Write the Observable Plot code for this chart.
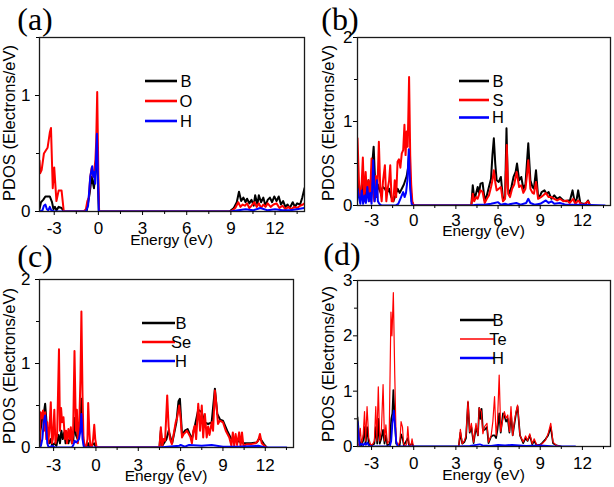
<!DOCTYPE html>
<html><head><meta charset="utf-8">
<script src="https://cdn.jsdelivr.net/npm/d3@7"></script>
<script src="https://cdn.jsdelivr.net/npm/@observablehq/plot@0.6"></script>
<style>
html,body{margin:0;padding:0;background:#fff;}
#fig{position:relative;width:614px;height:487px;overflow:hidden;background:#fff;}
.panel{position:absolute;}
</style></head><body><div id="fig"></div>
<script>
// ---------- tick values ----------
const xMajor = [-3, 0, 3, 6, 9, 12];
const xMinor = [-1.5, 1.5, 4.5, 7.5, 10.5, 13.5];
const xLabel = "Energy (eV)";
const yLabel = "PDOS (Electrons/eV)";

// ---------- panel (a): B, O, H ----------
const aNames = ["B", "O", "H"];
const aB = [[-4,0.02],[-3.9,0.08],[-3.75,0.1],[-3.6,0.13],[-3.3,0.13],[-3.15,0.08],[-3.05,0.02],[-2.95,0.04],[-2.85,0.01],[-2.7,0.04],[-2.5,0.03],[-2.35,0],
 [-0.8,0],[-0.6,0.15],[-0.45,0.3],[-0.3,0.2],[-0.2,0.35],[-0.1,0.5],[0.03,0],
 [8.9,0],[9.2,0.03],[9.4,0.08],[9.55,0.17],[9.7,0.09],[9.85,0.12],[10.0,0.08],[10.1,0.11],[10.25,0.07],[10.4,0.1],[10.55,0.05],[10.65,0.14],[10.8,0.06],[10.9,0.14],[11.05,0.08],[11.2,0.12],[11.35,0.05],[11.5,0.1],[11.65,0.12],[11.8,0.08],[11.95,0.13],[12.1,0.09],[12.25,0.13],[12.4,0.06],[12.55,0.09],[12.7,0.04],[12.85,0.06],[13.0,0.03],[13.2,0.08],[13.35,0.04],[13.5,0.07],[13.7,0.06],[13.85,0.12],[14,0.2]];
const aO = [[-4,0.44],[-3.95,0.33],[-3.85,0.36],[-3.7,0.5],[-3.55,0.53],[-3.45,0.55],[-3.3,0.68],[-3.22,0.72],[-3.1,0.2],[-3.0,0.38],[-2.85,0.09],[-2.7,0.18],[-2.5,0.18],[-2.35,0],
 [-1.0,0],[-0.85,0.02],[-0.75,0.09],[-0.65,0.12],[-0.55,0.3],[-0.45,0.38],[-0.35,0.3],[-0.28,0.35],[-0.2,0.45],[-0.15,0.6],[-0.08,1.03],[0,0.3],[0.05,0],
 [9.0,0],[9.3,0.03],[9.5,0.08],[9.65,0.04],[9.8,0.06],[9.95,0.05],[10.1,0.07],[10.25,0.03],[10.4,0.05],[10.6,0.08],[10.75,0.04],[10.9,0.07],[11.05,0.03],[11.2,0.06],[11.35,0.04],[11.5,0.07],[11.7,0.04],[11.9,0.06],[12.1,0.07],[12.3,0.03],[12.5,0.05],[12.7,0.02],[12.9,0.04],[13.1,0.02],[13.3,0.04],[13.5,0.03],[13.7,0.05],[13.9,0.06],[14,0.07]];
const aH = [[-4,0],[-3.8,0.01],[-3.7,0.05],[-3.6,0.06],[-3.5,0.02],[-3.4,0.01],[-3.3,0.04],[-3.2,0.01],[-3.0,0],
 [-0.85,0],[-0.7,0.05],[-0.55,0.3],[-0.42,0.39],[-0.35,0.3],[-0.28,0.34],[-0.22,0.24],[-0.1,0.67],[0.03,0],
 [9.0,0],[9.5,0.01],[10.0,0.02],[10.5,0.01],[11.0,0.03],[11.5,0.01],[12.0,0.02],[12.5,0.01],[13,0.01],[13.5,0.02],[14,0.03]];

// ---------- panel (b): B, S, H ----------
const bNames = ["B", "S", "H"];
const bB = [[-4,0.42],[-3.9,0.15],[-3.8,0.1],[-3.68,0.25],[-3.58,0.05],[-3.48,0.2],[-3.38,0.1],[-3.22,0.3],[-3.1,0.15],[-2.95,0.5],[-2.85,0.7],[-2.75,0.3],[-2.65,0.1],[-2.55,0.25],[-2.45,0.2],[-2.35,0.15],[-2.2,0.22],[-2.05,0.2],[-1.9,0.15],[-1.75,0.2],[-1.6,0.1],[-1.45,0.05],[-1.3,0.12],[-1.15,0.2],[-1.0,0.15],[-0.85,0.2],[-0.7,0.25],[-0.6,0.3],[-0.5,0.35],[-0.4,0.45],[-0.33,0.62],[-0.25,0.3],[-0.15,0.05],[0,0],
 [4.1,0],[4.2,0.24],[4.3,0.1],[4.4,0.12],[4.55,0.22],[4.65,0.15],[4.75,0.26],[4.9,0.27],[5.05,0.06],[5.2,0.12],[5.35,0.22],[5.5,0.32],[5.6,0.6],[5.7,0.8],[5.8,0.5],[5.9,0.3],[6.05,0.28],[6.2,0.34],[6.35,0.08],[6.5,0.1],[6.6,0.92],[6.7,0.2],[6.8,0.14],[6.95,0.22],[7.1,0.34],[7.25,0.4],[7.35,0.5],[7.5,0.3],[7.65,0.34],[7.8,0.2],[7.95,0.25],[8.05,0.5],[8.15,0.74],[8.3,0.3],[8.45,0.22],[8.55,0.2],[8.7,0.42],[8.85,0.1],[9.0,0.12],[9.1,0.16],[9.3,0.18],[9.45,0.14],[9.6,0.16],[9.8,0.08],[10.0,0.12],[10.2,0.08],[10.4,0.1],[10.65,0.06],[10.85,0.05],[11.0,0.06],[11.1,0.05],[11.3,0.18],[11.45,0.04],[11.6,0.08],[11.7,0.18],[11.85,0.03],[12.05,0.02],[12.25,0.02],[12.4,0.06],[12.55,0]];
const bS = [[-4,0.8],[-3.9,0.3],[-3.82,0.08],[-3.72,0.2],[-3.62,0.57],[-3.52,0.05],[-3.42,0.4],[-3.32,0.1],[-3.22,0.3],[-3.12,0.05],[-3.0,0.56],[-2.9,0.2],[-2.8,0.05],[-2.7,0.35],[-2.6,0.1],[-2.48,0.76],[-2.38,0.2],[-2.28,0.05],[-2.18,0.3],[-2.05,0.48],[-1.95,0.05],[-1.85,0.2],[-1.75,0.3],[-1.67,0.48],[-1.57,0.05],[-1.45,0.05],[-1.35,0.3],[-1.25,0.1],[-1.15,0.52],[-1.05,0.55],[-0.95,0.45],[-0.85,0.62],[-0.75,0.66],[-0.66,0.96],[-0.58,0.6],[-0.5,0.88],[-0.43,0.7],[-0.38,1.1],[-0.33,1.53],[-0.25,0.6],[-0.18,0.25],[-0.1,0.05],[0,0],
 [4.1,0],[4.2,0.14],[4.3,0.05],[4.45,0.1],[4.55,0.08],[4.75,0.18],[4.9,0.16],[5.05,0.03],[5.2,0.08],[5.35,0.12],[5.5,0.22],[5.6,0.3],[5.7,0.42],[5.8,0.28],[5.9,0.18],[6.05,0.2],[6.2,0.22],[6.35,0.05],[6.5,0.08],[6.62,0.72],[6.72,0.14],[6.85,0.1],[7.0,0.2],[7.15,0.25],[7.32,0.4],[7.5,0.22],[7.65,0.24],[7.8,0.15],[7.95,0.2],[8.05,0.35],[8.15,0.54],[8.3,0.2],[8.45,0.15],[8.55,0.14],[8.7,0.28],[8.85,0.08],[9.05,0.1],[9.2,0.12],[9.4,0.15],[9.6,0.1],[9.8,0.1],[10.0,0.08],[10.2,0.06],[10.4,0.08],[10.65,0.05],[10.9,0.06],[11.1,0.03],[11.35,0.08],[11.5,0.02],[11.7,0.06],[11.9,0.02],[12.1,0.01],[12.4,0.05],[12.55,0]];
const bH = [[-4,0.2],[-3.9,0.1],[-3.8,0.02],[-3.7,0.18],[-3.6,0.02],[-3.5,0.12],[-3.4,0.03],[-3.3,0.22],[-3.2,0.05],[-3.1,0.15],[-3.0,0.02],[-2.88,0.54],[-2.78,0.05],[-2.7,0.15],[-2.62,0.3],[-2.55,0.05],[-2.45,0.02],[-2.3,0],[-1.3,0],[-1.1,0.02],[-0.95,0.08],[-0.85,0.12],[-0.75,0.16],[-0.65,0.1],[-0.55,0.15],[-0.45,0.3],[-0.35,0.67],[-0.25,0.2],[-0.15,0.02],[-0.05,0],
 [4.1,0],[4.5,0.01],[5.0,0.01],[5.5,0.02],[5.75,0.03],[6.0,0.04],[6.2,0.01],[6.5,0.02],[6.7,0.01],[7.0,0.02],[7.3,0.03],[7.6,0.01],[8.0,0.03],[8.15,0.08],[8.3,0.03],[8.6,0.01],[9.0,0.02],[9.4,0.06],[9.6,0.03],[9.8,0.05],[10.0,0.02],[10.4,0.03],[10.8,0.01],[12.0,0.01],[13.6,0]];

// ---------- panel (c): B, Se, H ----------
const cNames = ["B", "Se", "H"];
const cB = [[-4,0],[-3.93,0.2],[-3.8,0.35],[-3.7,0.4],[-3.6,0.52],[-3.5,0.3],[-3.4,0.1],[-3.3,0.05],[-3.2,0.1],[-3.1,0.02],[-2.95,0.05],[-2.8,0.02],[-2.65,0.15],[-2.55,0.05],[-2.45,0.2],[-2.35,0.1],[-2.25,0.18],[-2.15,0.05],[-2.05,0.1],[-1.95,0.05],[-1.8,0.15],[-1.7,0.05],[-1.6,0.1],[-1.52,0.35],[-1.42,0.15],[-1.3,0.1],[-1.2,0.2],[-1.1,0.3],[-1.03,0.58],[-0.95,0.2],[-0.85,0.02],[-0.6,0.02],[-0.55,0.05],[-0.45,0],[-0.12,0.05],[0,0],
 [4.5,0],[4.6,0.2],[4.7,0.02],[5.0,0.1],[5.15,0.2],[5.4,0.05],[5.7,0.3],[5.85,0.55],[5.95,0.58],[6.1,0.15],[6.3,0.2],[6.5,0.22],[6.8,0.1],[7.0,0.25],[7.25,0.45],[7.5,0.42],[7.7,0.3],[7.95,0.28],[8.2,0.3],[8.43,0.7],[8.6,0.4],[8.8,0.33],[9.0,0.32],[9.3,0.2],[9.6,0.1],[10.0,0.08],[10.5,0.05],[11.0,0.05],[11.4,0.06],[11.6,0.12],[11.9,0.04],[12.1,0]];
const cSe = [[-4,0],[-3.93,0.42],[-3.85,0.35],[-3.75,0.44],[-3.68,0.2],[-3.6,0.42],[-3.52,0.1],[-3.45,0.3],[-3.38,0.05],[-3.3,0.2],[-3.2,0.54],[-3.12,0.05],[-3.05,0.1],[-2.95,0.45],[-2.87,0.05],[-2.75,0.15],[-2.62,1.17],[-2.55,0.2],[-2.47,0.47],[-2.4,0.3],[-2.3,0.36],[-2.2,0.1],[-2.12,0.2],[-2.05,0.05],[-1.95,0.22],[-1.85,0.1],[-1.78,0.24],[-1.7,0.05],[-1.62,0.15],[-1.52,1.15],[-1.42,0.2],[-1.35,0.45],[-1.28,0.05],[-1.18,0.3],[-1.1,0.8],[-1.03,1.62],[-0.95,0.6],[-0.88,0.1],[-0.8,0.02],[-0.7,0],[-0.6,0.1],[-0.55,0.53],[-0.47,0.2],[-0.4,0.02],[-0.3,0],[-0.2,0.1],[-0.12,0.27],[-0.05,0.1],[0.05,0],
 [4.5,0],[4.6,0.24],[4.7,0.02],[4.8,0.1],[4.9,0.08],[5.05,0.62],[5.15,0.25],[5.25,0.1],[5.38,0.04],[5.5,0.15],[5.65,0.3],[5.75,0.35],[5.9,0.5],[6.0,0.35],[6.1,0.12],[6.22,0.16],[6.35,0.18],[6.45,0.2],[6.58,0.16],[6.7,0.12],[6.8,0.05],[6.9,0.2],[7.0,0.26],[7.1,0.1],[7.25,0.52],[7.38,0.2],[7.5,0.5],[7.6,0.12],[7.72,0.4],[7.85,0.12],[7.95,0.25],[8.05,0.15],[8.2,0.3],[8.3,0.2],[8.43,0.68],[8.55,0.48],[8.65,0.28],[8.78,0.32],[9.0,0.3],[9.2,0.2],[9.45,0.12],[9.6,0.02],[9.7,0.18],[9.8,0.02],[9.9,0.16],[10.0,0.03],[10.15,0.18],[10.25,0.02],[10.35,0.18],[10.45,0.02],[10.7,0.04],[11.0,0.04],[11.3,0.05],[11.5,0.08],[11.62,0.16],[11.75,0.05],[12.0,0.01],[12.1,0]];
const cH = [[-4,0],[-3.9,0.02],[-3.8,0.1],[-3.7,0.3],[-3.6,0.38],[-3.52,0.25],[-3.45,0.05],[-3.35,0],[-3.1,0.02],[-2.9,0],[-1.7,0],[-1.6,0.03],[-1.5,0.08],[-1.4,0.06],[-1.3,0.08],[-1.2,0.1],[-1.1,0.2],[-1.03,0.4],[-0.95,0.1],[-0.85,0],
 [4.5,0],[5.9,0.02],[6.0,0.03],[6.3,0.01],[6.6,0.03],[7.5,0.02],[8.2,0.03],[9.0,0.01],[10,0.01],[11.5,0.02],[12,0],[13.5,0]];

// ---------- panel (d): B, Te, H ----------
const dNames = ["B", "Te", "H"];
const dB = [[-4,0.53],[-3.92,0.3],[-3.85,0.1],[-3.75,0.02],[-3.6,0.1],[-3.5,0.35],[-3.42,0.05],[-3.32,0.35],[-3.2,0.05],[-3.0,0.02],[-2.8,0.05],[-2.7,0.35],[-2.6,0.05],[-2.52,0.5],[-2.42,0.05],[-2.3,0.15],[-2.18,0.3],[-2.08,0.05],[-1.98,0.2],[-1.88,0.02],[-1.7,0.05],[-1.6,0.5],[-1.52,0.6],[-1.45,1.02],[-1.35,0.5],[-1.25,0.05],[-1.0,0.02],[-0.9,0.22],[-0.8,0.15],[-0.7,0.02],[-0.42,0.15],[-0.33,0.02],[-0.12,0.05],[0,0],
 [3.2,0],[3.32,0.25],[3.45,0.05],[3.6,0.08],[3.72,0.15],[3.86,0.8],[3.98,0.25],[4.1,0.35],[4.26,0.06],[4.43,0.35],[4.57,0.2],[4.66,0.7],[4.75,0.5],[4.83,0.68],[4.92,0.3],[5.04,0.3],[5.21,0.35],[5.32,0.06],[5.51,0.18],[5.63,0.2],[5.75,0.2],[5.86,0.15],[5.96,0.3],[6.08,0.6],[6.19,0.25],[6.35,0.6],[6.45,0.55],[6.57,0.45],[6.69,0.5],[6.81,0.25],[6.92,0.6],[7.04,0.2],[7.16,0.4],[7.28,0.6],[7.39,0.72],[7.56,0.2],[7.79,0.06],[7.96,0.15],[8.1,0.1],[8.26,0.2],[8.43,0.04],[8.57,0.1],[8.73,0.03],[8.97,0.03],[9.13,0.06],[9.37,0.13],[9.56,0.2],[9.75,0.35],[9.91,0.06],[10.15,0.02],[10.5,0]];
const dTe = [[-4,0],[-3.9,0.05],[-3.8,0.33],[-3.72,0.05],[-3.6,0.2],[-3.5,0.63],[-3.42,0.1],[-3.32,0.72],[-3.2,0.15],[-3.05,0.02],[-2.9,0.05],[-2.8,0.1],[-2.7,0.72],[-2.62,0.1],[-2.52,1.08],[-2.42,0.1],[-2.3,0.3],[-2.18,1.12],[-2.08,0.1],[-1.98,0.39],[-1.88,0.05],[-1.75,0.1],[-1.62,2.43],[-1.55,2.0],[-1.45,2.78],[-1.35,1.3],[-1.25,0.1],[-1.1,0.02],[-0.98,0.1],[-0.9,0.45],[-0.8,0.35],[-0.72,0.05],[-0.6,0],[-0.5,0.05],[-0.42,0.36],[-0.33,0.05],[-0.2,0],[-0.12,0.14],[-0.02,0],
 [3.2,0],[3.32,0.31],[3.45,0.05],[3.6,0.1],[3.72,0.2],[3.86,0.82],[3.98,0.27],[4.1,0.42],[4.26,0.08],[4.43,0.42],[4.57,0.2],[4.66,0.7],[4.81,0.63],[4.92,0.23],[5.04,0.36],[5.21,0.42],[5.32,0.08],[5.51,0.2],[5.63,0.45],[5.75,0.9],[5.86,0.2],[5.96,0.45],[6.08,1.29],[6.19,0.27],[6.31,0.45],[6.45,0.63],[6.57,0.51],[6.69,0.57],[6.81,0.27],[6.92,0.72],[7.04,0.2],[7.16,0.45],[7.28,0.63],[7.39,0.75],[7.56,0.2],[7.79,0.08],[7.96,0.19],[8.1,0.11],[8.26,0.23],[8.43,0.05],[8.57,0.14],[8.73,0.04],[8.97,0.02],[9.13,0.05],[9.37,0.11],[9.56,0.23],[9.75,0.42],[9.91,0.08],[10.15,0.02],[10.5,0]];
const dH = [[-4,0.45],[-3.92,0.2],[-3.85,0.02],[-3.7,0.05],[-3.6,0.02],[-3.5,0.06],[-3.4,0.03],[-3.3,0.07],[-3.2,0.02],[-3.0,0],[-1.7,0],[-1.6,0.1],[-1.52,0.4],[-1.42,0.65],[-1.35,0.45],[-1.25,0.1],[-1.15,0],
 [3.2,0],[4.0,0.01],[4.7,0.04],[4.9,0.02],[5.5,0.01],[6.0,0.03],[6.5,0.02],[7.0,0.03],[7.5,0.02],[8.0,0.01],[9.0,0.02],[9.5,0.01],[10,0],[11.5,0]];

// ---------- layout / style ----------
const colors = ["#000000", "#ff0000", "#0000ff"];
const panels = [
  {tag:"(a)", left:0, top:0, h:250, ml:39, mr:3, mt:37, mb:39, yDomain:[0,1.5], yMajor:[0,1], yMinor:[0.5,1.5],
   names:aNames, data:[aB,aO,aH], sw:[2,2,2], lsw:[2.6,2.6,2.6],
   leg:{x1:145,x2:177,tx:186,ys:[81,101,121]}, tagPos:[35,29.5], ylab:[9,123], xlabY:245, xPad:6.5, yPad:5},
  {tag:"(b)", left:307, top:0, h:250, ml:50, mr:4, mt:37, mb:45, yDomain:[0,2], yMajor:[0,1,2], yMinor:[0.5,1.5],
   names:bNames, data:[bB,bS,bH], sw:[2,2,2], lsw:[2.6,2.6,2.6],
   leg:{x1:152,x2:182,tx:191,ys:[81,100,117.5]}, tagPos:[33,29.5], ylab:[21,123], xlabY:236, xPad:4.5, yPad:1},
  {tag:"(c)", left:0, top:243, h:244, ml:39, mr:14, mt:36, mb:40, yDomain:[0,2], yMajor:[0,1,2], yMinor:[0.5,1.5],
   names:cNames, data:[cB,cSe,cH], sw:[2,2,2], lsw:[2.6,2.6,2.6],
   leg:{x1:142,x2:175,tx:181,ys:[80,99,118]}, tagPos:[35,24], ylab:[9.5,123], xlabY:238, xPad:7, yPad:5},
  {tag:"(d)", left:307, top:243, h:244, ml:50, mr:4, mt:37, mb:41, yDomain:[0,3], yMajor:[0,1,2,3], yMinor:[0.5,1.5,2.5],
   names:dNames, data:[dB,dTe,dH], sw:[1.7,1.2,1.8], lsw:[2.6,1.3,2.6],
   leg:{x1:153,x2:187,tx:191,ys:[77,96,115]}, tagPos:[35,22], ylab:[21,121], xlabY:237, xPad:6, yPad:1}
];

const fmt = d => (d < 0 ? "-" + (-d) : String(d));
const sansFont = "'Liberation Sans', Arial, Helvetica, sans-serif";
const serifFont = "'Liberation Serif', 'Times New Roman', serif";
const fig = document.getElementById("fig");

for (const p of panels) {
  const svg = Plot.plot({
    width: 307, height: p.h,
    marginLeft: p.ml, marginRight: p.mr, marginTop: p.mt, marginBottom: p.mb,
    style: {fontFamily: sansFont, fontSize: "17px", color: "#000", background: "transparent", overflow: "visible"},
    x: {domain: [-4, 14]},
    y: {domain: p.yDomain},
    marks: [
      ...p.data.map((d, i) => Plot.line(d, {x: v => v[0], y: v => v[1], stroke: colors[i], strokeWidth: p.sw[i], clip: true, strokeLinejoin: "round"})),
      Plot.frame({stroke: "#1a1a1a", strokeWidth: 1.3}),
      Plot.axisX(xMajor, {tickSize: 4, tickPadding: p.xPad, fontSize: 17, label: null, tickFormat: fmt}),
      Plot.axisX(xMinor, {tickSize: 3, label: null, tickFormat: () => ""}),
      Plot.axisY(p.yMajor, {tickSize: 4, tickPadding: p.yPad, fontSize: 17, label: null, tickFormat: fmt}),
      Plot.axisY(p.yMinor, {tickSize: 3, label: null, tickFormat: () => ""})
    ]
  });
  const wrap = document.createElement("div");
  wrap.className = "panel";
  wrap.style.left = p.left + "px";
  wrap.style.top = p.top + "px";
  wrap.appendChild(svg);
  fig.appendChild(wrap);

  const s = d3.select(svg);
  const fx = (p.ml + 307 - p.mr) / 2;
  // x label
  s.append("text").attr("x", fx).attr("y", p.xlabY).attr("text-anchor", "middle")
    .attr("font-family", sansFont).attr("font-size", 15.5).attr("fill", "#000").text(xLabel);
  // y label
  s.append("text").attr("transform", `translate(${p.ylab[0]},${p.ylab[1]}) rotate(-90)`)
    .attr("text-anchor", "middle").attr("dy", "0.35em")
    .attr("font-family", sansFont).attr("font-size", 16.5).attr("fill", "#000").text(yLabel);
  // panel tag
  s.append("text").attr("x", p.tagPos[0]).attr("y", p.tagPos[1])
    .attr("font-family", serifFont).attr("font-size", 32).attr("fill", "#000").text(p.tag);
  // legend
  const g = s.append("g");
  p.names.forEach((n, i) => {
    g.append("line").attr("x1", p.leg.x1).attr("x2", p.leg.x2).attr("y1", p.leg.ys[i]).attr("y2", p.leg.ys[i])
      .attr("stroke", colors[i]).attr("stroke-width", p.lsw[i]);
    g.append("text").attr("x", p.leg.tx).attr("y", p.leg.ys[i]).attr("dy", "0.36em")
      .attr("font-family", sansFont).attr("font-size", 16.5).attr("fill", "#000").text(n);
  });
}
</script></body></html>
